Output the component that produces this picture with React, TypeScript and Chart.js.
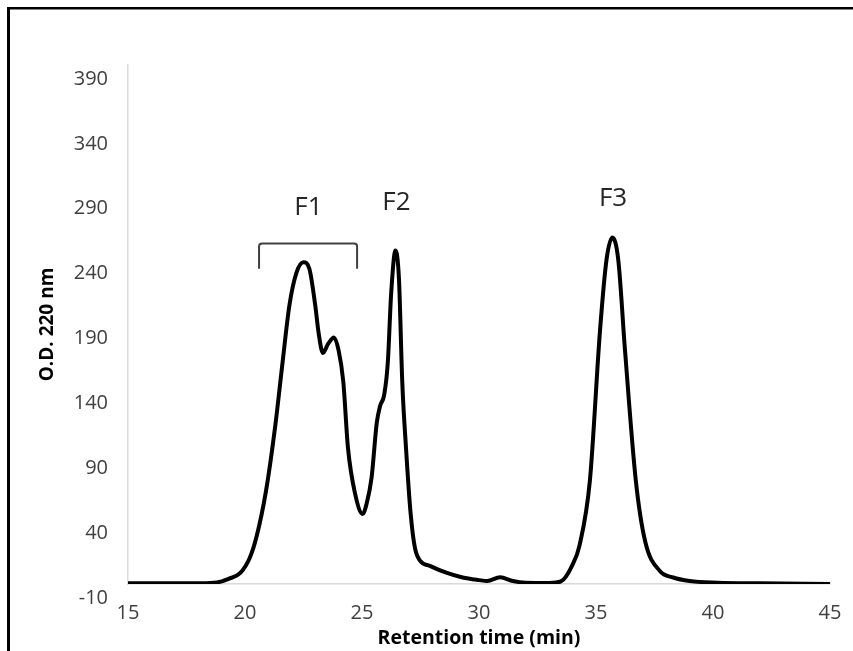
import React, { useEffect, useRef } from "react";
import { Chart, registerables } from "chart.js";

Chart.register(...registerables);

// Retention time (min) and O.D. 220 nm readings
const retentionTimes = [
  15, 16, 17, 18, 18.8, 19.3, 19.8, 20.2, 20.5, 20.9, 21.3, 21.6, 21.9, 22.2, 22.5,
  22.75, 23.0, 23.15, 23.33, 23.55, 23.8, 24.0, 24.2, 24.4, 24.7, 25.03, 25.2, 25.41,
  25.63, 25.77, 25.95, 26.1, 26.25, 26.43, 26.58, 26.72, 26.88, 27.08, 27.26, 27.48,
  27.9, 28.6, 29.3, 30.0, 30.35, 30.9, 31.45, 32.0, 33.0, 33.5, 34.0, 34.3, 34.74,
  35.17, 35.45, 35.7, 35.95, 36.24, 36.7, 37.1, 37.73, 38.3, 39.0, 40.2, 42, 45,
];
const odValues = [
  -9.5, -9.5, -9.5, -9.4, -8.8, -6, -1.5, 10, 27, 62, 113, 160, 205, 230, 238,
  233, 205, 183, 168, 175, 180, 170, 146, 95, 60, 44, 52, 72,
  114, 127, 136, 160, 215, 247, 225, 146, 95, 44, 18, 8,
  4, -1.3, -5, -7, -7.7, -4.8, -7.7, -9, -9.2, -8, 5, 20, 70,
  185, 240, 257, 240, 170, 70, 23, 0, -5, -7.7, -9, -9.5, -10,
];

const xTicks = [15, 20, 25, 30, 35, 40, 45];
const yTicks = [-10, 40, 90, 140, 190, 240, 290, 340, 390];

const peakLabels = ["F1", "F2", "F3"];
const peakLabelX = [22.71, 26.47, 35.73];
const peakLabelY = [280, 284, 287];

// bracket over fraction F1: [start time, end time, top value, leg bottom value]
const bracketRange = [20.6, 24.79, 252.5, 233];

const FONT = "'Open Sans'";

const annotationPlugin = {
  id: "annotations",
  beforeDraw(chart: any) {
    const ctx = chart.ctx;
    ctx.save();
    ctx.fillStyle = "#ffffff";
    ctx.fillRect(0, 0, chart.width, chart.height);
    ctx.restore();
  },
  afterDraw(chart: any) {
    const ctx = chart.ctx;
    const xs = chart.scales.x;
    const ys = chart.scales.y;
    ctx.save();
    // outer frame
    ctx.fillStyle = "#000000";
    ctx.fillRect(7, 7, 3, chart.height);
    ctx.fillRect(7, 7, chart.width, 2.5);
    // bracket
    const x1 = xs.getPixelForValue(bracketRange[0]);
    const x2 = xs.getPixelForValue(bracketRange[1]);
    const yt = ys.getPixelForValue(bracketRange[2]);
    const yb = ys.getPixelForValue(bracketRange[3]);
    const r = 3;
    ctx.strokeStyle = "#404040";
    ctx.lineWidth = 2;
    ctx.beginPath();
    ctx.moveTo(x1, yb);
    ctx.lineTo(x1, yt + r);
    ctx.quadraticCurveTo(x1, yt, x1 + r, yt);
    ctx.lineTo(x2 - r, yt);
    ctx.quadraticCurveTo(x2, yt, x2, yt + r);
    ctx.lineTo(x2, yb);
    ctx.stroke();
    // peak labels
    ctx.fillStyle = "#262626";
    ctx.font = `26px ${FONT}`;
    ctx.textAlign = "center";
    ctx.textBaseline = "middle";
    peakLabels.forEach((t, i) => {
      ctx.fillText(t, xs.getPixelForValue(peakLabelX[i]), ys.getPixelForValue(peakLabelY[i]));
    });
    ctx.restore();
  },
};

export default function App() {
  const canvasRef = useRef<HTMLCanvasElement | null>(null);

  useEffect(() => {
    if (!canvasRef.current) return;
    const points = retentionTimes.map((t, i) => ({ x: t, y: odValues[i] }));
    const chart = new Chart(canvasRef.current, {
      type: "line",
      data: {
        datasets: [
          {
            data: points,
            borderColor: "#000000",
            borderWidth: 4,
            pointRadius: 0,
            fill: false,
            cubicInterpolationMode: "monotone",
          },
        ],
      },
      options: {
        responsive: false,
        animation: false,
        layout: { padding: { left: 0, right: 23, top: 65, bottom: 0 } },
        plugins: {
          legend: { display: false },
          tooltip: { enabled: false },
        },
        scales: {
          x: {
            type: "linear",
            min: 15,
            max: 45,
            afterBuildTicks: (scale: any) => {
              scale.ticks = xTicks.map((v) => ({ value: v }));
            },
            afterFit: (scale: any) => {
              scale.height = 67;
              scale.paddingLeft = 0;
              scale.paddingRight = 0;
            },
            grid: { display: false, drawTicks: false },
            border: { display: true, color: "#d9d9d9", width: 1.5 },
            ticks: {
              padding: 17,
              color: "#404040",
              font: { family: FONT, size: 20 },
              maxRotation: 0,
            },
            title: {
              display: true,
              text: "Retention time (min)",
              color: "#000000",
              font: { family: FONT, size: 19.5, weight: "bold" },
              padding: { top: 0, bottom: 1 },
            },
          },
          y: {
            type: "linear",
            min: -10,
            max: 390,
            afterBuildTicks: (scale: any) => {
              scale.ticks = yTicks.map((v) => ({ value: v }));
            },
            afterFit: (scale: any) => {
              scale.width = 128;
              scale.paddingTop = 0;
              scale.paddingBottom = 0;
            },
            grid: { display: false, drawTicks: false },
            border: { display: true, color: "#d9d9d9", width: 1.5 },
            ticks: {
              padding: 20,
              labelOffset: 14,
              color: "#404040",
              font: { family: FONT, size: 20 },
            },
            title: {
              display: true,
              text: "O.D. 220 nm",
              color: "#000000",
              font: { family: FONT, size: 19, weight: "bold" },
              padding: { top: 36, bottom: 0 },
            },
          },
        },
      },
      plugins: [annotationPlugin],
    });
    return () => chart.destroy();
  }, []);

  return (
    <div
      style={{
        position: "fixed",
        left: 0,
        top: 0,
        width: 853,
        height: 651,
        overflow: "hidden",
        background: "#ffffff",
      }}
    >
      <canvas ref={canvasRef} width={853} height={651} style={{ display: "block" }} />
    </div>
  );
}
